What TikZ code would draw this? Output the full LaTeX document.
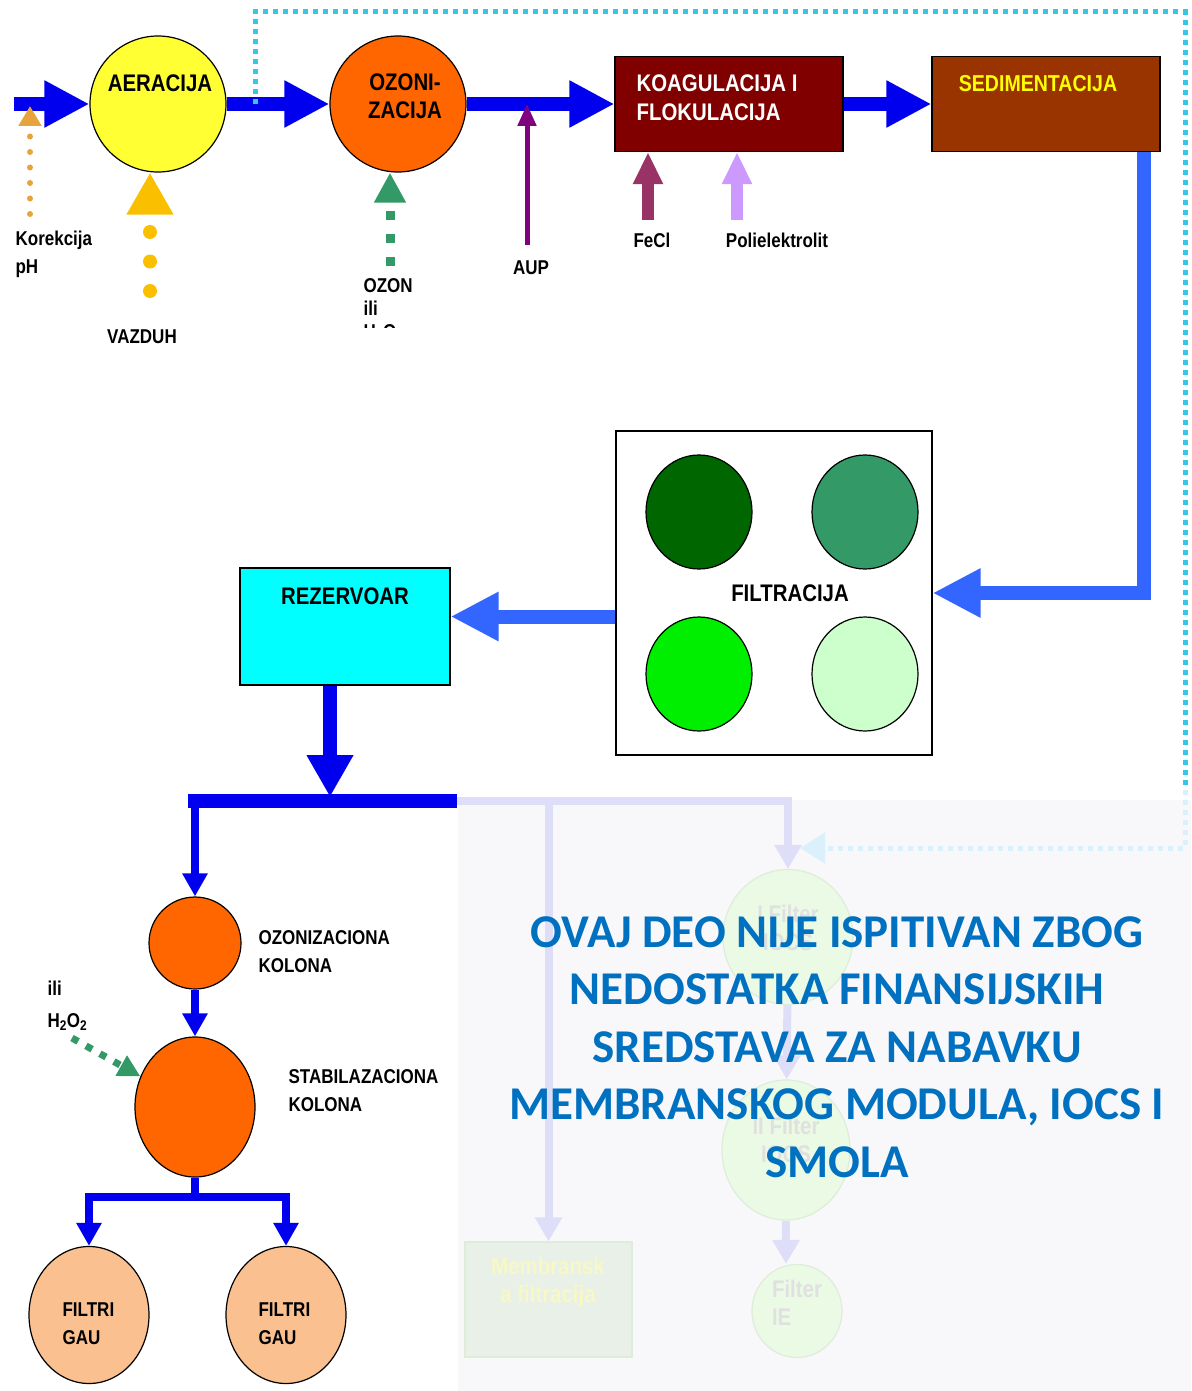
\documentclass[tikz,border=0pt]{standalone}
\usepackage{fontspec}
\setmainfont{Liberation Sans}
\newfontfamily\labfont[FakeStretch=0.85]{Liberation Sans}
\newfontfamily\notefont{Carlito}
\usetikzlibrary{arrows.meta,shapes.geometric}

\definecolor{flowblue}{RGB}{0,0,238}
\definecolor{sideblue}{RGB}{51,102,255}
\definecolor{recyan}{RGB}{51,200,230}
\definecolor{recyanfade}{RGB}{218,240,250}
\definecolor{fadeblue}{RGB}{222,222,248}
\definecolor{fadebg}{RGB}{248,248,250}
\definecolor{aerfill}{RGB}{255,255,51}
\definecolor{ozfill}{RGB}{255,102,0}
\definecolor{koagfill}{RGB}{128,0,0}
\definecolor{sedfill}{RGB}{153,51,0}
\definecolor{sedtext}{RGB}{255,255,0}
\definecolor{rezfill}{RGB}{0,255,255}
\definecolor{gaufill}{RGB}{250,192,144}
\definecolor{filtA}{RGB}{0,102,0}
\definecolor{filtB}{RGB}{51,153,102}
\definecolor{filtC}{RGB}{0,238,0}
\definecolor{filtD}{RGB}{204,255,204}
\definecolor{airyellow}{RGB}{250,192,0}
\definecolor{phorange}{RGB}{232,164,60}
\definecolor{ozgreen}{RGB}{51,153,102}
\definecolor{aupviolet}{RGB}{128,0,128}
\definecolor{fecl}{RGB}{153,51,102}
\definecolor{poli}{RGB}{204,153,255}
\definecolor{notetext}{RGB}{0,112,192}
\definecolor{fadegreen}{RGB}{234,250,228}
\definecolor{fadeedge}{RGB}{222,236,218}
\definecolor{fadetext}{RGB}{224,224,224}
\definecolor{membfill}{RGB}{232,240,232}
\definecolor{membtext}{RGB}{248,248,196}

\begin{document}
\begin{tikzpicture}[x=1pt, y=-1pt, line width=1.2pt,
	bigtxt/.style={font=\labfont\bfseries\fontsize{24}{28}\selectfont, inner sep=0pt},
	smalltxt/.style={font=\labfont\bfseries\fontsize{20}{28}\selectfont, inner sep=0pt, align=left},
	tank/.style={circle, draw, inner sep=0pt},
	vessel/.style={ellipse, draw, inner sep=0pt},
	unitbox/.style={rectangle, draw, inner sep=0pt},
	pipe/.style={draw=flowblue, line width=14pt, -{Triangle[length=45pt,width=44pt]}},
	sidepipe/.style={draw=sideblue, line width=14pt, -{Triangle[length=48pt,width=46pt]}},
	thinpipe/.style={draw=flowblue, line width=8pt, -{Triangle[length=23pt,width=24pt]}},
	fadepipe/.style={draw=fadeblue, line width=8pt, -{Triangle[length=24pt,width=26pt]}},
	recycle/.style={draw=recyan, line width=5pt, dash pattern=on 5pt off 5pt},
	fadecycle/.style={draw=recyanfade, line width=5pt, dash pattern=on 5pt off 5pt, -{Triangle[length=25pt,width=30pt]}},
	airdot/.style={draw=airyellow, line width=14pt, line cap=round, dash pattern=on 0pt off 29.5pt, -{Triangle[length=42pt,width=44pt]}},
	phdot/.style={draw=phorange, line width=6pt, line cap=round, dash pattern=on 0pt off 15.5pt, -{Triangle[length=20pt,width=22pt]}},
	ozdot/.style={draw=ozgreen, line width=9pt, dash pattern=on 9pt off 14pt, -{Triangle[length=30pt,width=30pt]}},
	h2dot/.style={draw=ozgreen, line width=7pt, dash pattern=on 7pt off 9pt, -{Triangle[length=22pt,width=22pt]}},
	dose/.style={draw=#1, line width=12pt, -{Triangle[length=32pt,width=28pt]}},
	]
	\useasboundingbox (0,0) rectangle (1191,1391);
	
	% neispitani deo (bledo)
	\fill[fadebg] (458,800) rectangle (1191,1391);
	\node[vessel, fill=fadegreen, draw=fadeedge, minimum width=130pt, minimum height=135pt] (fi1) at (788,937) {};
	\node[vessel, fill=fadegreen, draw=fadeedge, minimum width=128pt, minimum height=140pt] (fi2) at (786,1150) {};
	\node[vessel, fill=fadegreen, draw=fadeedge, minimum width=90pt, minimum height=93pt] (fi3) at (797,1311) {};
	\node[unitbox, fill=membfill, draw=fadeedge, minimum width=167pt, minimum height=115pt] (memb) at (548.5,1299.5) {};
	\node[bigtxt, text=fadetext, align=center] (fi1txt) at (788,928) {I Filter\\IOCS};
	\node[bigtxt, text=fadetext, align=center] (fi2txt) at (786,1140) {II Filter\\IOCS};
	\node[bigtxt, text=fadetext, align=left] (fi3txt) at (797,1303) {Filter\\IE};
	\node[bigtxt, text=membtext, align=center] (membtxt) at (548,1282) {Membransk\\a filtracija};
	
	\coordinate (barl) at (188,801);
	\coordinate (barr) at (457,801);
	\draw[fadepipe] (barr) -| (fi1);
	\draw[fadepipe] (memb.north |- barr) -- (memb.north);
	\draw[fadepipe] (fi1) -- (fi2);
	\draw[fadepipe] (fi2.south) -- (fi2.south |- fi3.north);
	
	% glavna linija
	\node[tank, fill=aerfill, minimum size=136pt] (aer) at (158,104) {};
	\node[tank, fill=ozfill, minimum size=136pt] (ozon) at (398,104) {};
	\node[unitbox, fill=koagfill, minimum width=228pt, minimum height=95pt] (koag) at (729,104) {};
	\node[unitbox, fill=sedfill, minimum width=228pt, minimum height=95pt] (sed) at (1046,104) {};
	\node[unitbox, fill=white, minimum width=316pt, minimum height=324pt] (filt) at (774,593) {};
	\node[unitbox, fill=rezfill, minimum width=210pt, minimum height=117pt] (rez) at (345,626.5) {};
	
	\node[vessel, fill=filtA, minimum width=106pt, minimum height=114pt] (f1) at (699,512) {};
	\node[vessel, fill=filtB, minimum width=106pt, minimum height=114pt] (f2) at (865,512) {};
	\node[vessel, fill=filtC, minimum width=106pt, minimum height=114pt] (f3) at (699,674) {};
	\node[vessel, fill=filtD, minimum width=106pt, minimum height=114pt] (f4) at (865,674) {};
	
	\node[tank, fill=ozfill, minimum size=92pt] (okol) at (195,943) {};
	\node[vessel, fill=ozfill, minimum width=120pt, minimum height=140pt] (skol) at (195,1107) {};
	\node[vessel, fill=gaufill, minimum width=120pt, minimum height=137pt] (gau1) at (89,1315) {};
	\node[vessel, fill=gaufill, minimum width=120pt, minimum height=137pt] (gau2) at (286,1315) {};
	
	\coordinate (inl) at (14,104);
	\coordinate (split) at (330,797);
	\coordinate (fork) at (195,1197);
	\coordinate (rezin) at ([yshift=10pt]rez.east);
	
	\draw[pipe] (inl) -- (aer);
	\draw[pipe] (aer) -- (ozon);
	\draw[pipe] (ozon) -- (koag);
	\draw[pipe] (koag) -- (sed);
	\draw[sidepipe] ([xshift=-17pt]sed.south east) |- (filt.east);
	\draw[sidepipe] (filt.west |- rezin) -- (rezin);
	\draw[draw=flowblue, line width=14pt] (barl) -- (barr);
	\draw[pipe, -{Triangle[length=42pt,width=44pt]}] (rez.south -| split) -- (split);
	\draw[thinpipe] (okol |- barl) -- (okol);
	\draw[thinpipe] (okol) -- (skol);
	\draw[draw=flowblue, line width=8pt] (skol) -- (fork);
	\draw[thinpipe] (fork) -| (gau1);
	\draw[thinpipe] (fork) -| (gau2);
	
	% recirkulacija
	\coordinate (tapa) at (255,104);
	\coordinate (ne) at (1185,12);
	\coordinate (turn) at (1185,790);
	\coordinate (retin) at (800,848);
	\draw[recycle] (tapa) |- (ne) -- (turn);
	\draw[fadecycle] (turn) |- (retin);
	
	% doziranje
	\coordinate (phin) at (30,214);
	\coordinate (phout) at (30,106);
	\coordinate (vzd) at (150,291);
	\coordinate (ozin) at (390,266);
	\coordinate (aupin) at (527,245);
	\coordinate (feclin) at (648,220);
	\coordinate (poliin) at (737,220);
	\coordinate (h2in) at (72,1038);
	\draw[phdot] (phin) -- (phout);
	\draw[airdot] (vzd) -- (vzd |- aer.south);
	\draw[ozdot] (ozin) -- (ozin |- ozon.south);
	\draw[draw=aupviolet, line width=5pt, -{Triangle[length=22pt,width=18pt]}] (aupin) -- (aupin |- ozon);
	\draw[dose=fecl] (feclin) -- (feclin |- koag.south);
	\draw[dose=poli] (poliin) -- (poliin |- koag.south);
	\draw[h2dot] (h2in) -- (skol);
	
	% natpisi
	\node[bigtxt] (aertxt) at (160,83) {AERACIJA};
	\node[bigtxt, align=center] (oztxt) at (405,96) {OZONI-\\ZACIJA};
	\node[bigtxt, anchor=west, align=left, text=white, font=\labfont\bfseries\fontsize{24}{29}\selectfont] (koagtxt) at (636,97.5) {KOAGULACIJA I\\FLOKULACIJA};
	\node[bigtxt, text=sedtext, font=\labfont\bfseries\fontsize{23}{28}\selectfont] (sedtxt) at (1038,84) {SEDIMENTACIJA};
	\node[bigtxt] (filttxt) at (790,593) {FILTRACIJA};
	\node[bigtxt] (reztxt) at (345,596) {REZERVOAR};
	
	\node[smalltxt, anchor=west] (korlab) at (15,254) {Korekcija\\pH};
	\node[smalltxt] (vzdlab) at (142,337) {VAZDUH};
	\begin{scope}
		\clip (340,270) rectangle (460,327);
		\node[smalltxt, anchor=west, font=\labfont\bfseries\fontsize{20}{23}\selectfont] (ozlab) at (363,310) {OZON\\ili\\H\textsubscript{2}O\textsubscript{2}};
	\end{scope}
	\node[smalltxt] (auplab) at (531,268) {AUP};
	\node[smalltxt] (fecllab) at (652,240) {FeCl};
	\node[smalltxt] (polilab) at (777,240) {Polielektrolit};
	\node[smalltxt, anchor=west] (oklab) at (258,952) {OZONIZACIONA\\KOLONA};
	\node[smalltxt, anchor=west] (sklab) at (288,1091) {STABILAZACIONA\\KOLONA};
	\node[smalltxt, anchor=west, font=\labfont\bfseries\fontsize{20}{32}\selectfont] (h2lab) at (47,1006) {ili\\H\textsubscript{2}O\textsubscript{2}};
	\node[smalltxt, anchor=west] (gau1txt) at (62,1324) {FILTRI\\GAU};
	\node[smalltxt, anchor=west] (gau2txt) at (258,1324) {FILTRI\\GAU};
	
	\node[font=\notefont\bfseries\fontsize{47}{57.5}\selectfont, text=notetext, align=center, inner sep=0pt] (note) at (837,1047) {OVAJ DEO NIJE ISPITIVAN ZBOG\\NEDOSTATKA FINANSIJSKIH\\SREDSTAVA ZA NABAVKU\\MEMBRANSKOG MODULA, IOCS I\\SMOLA};
\end{tikzpicture}
\end{document}
